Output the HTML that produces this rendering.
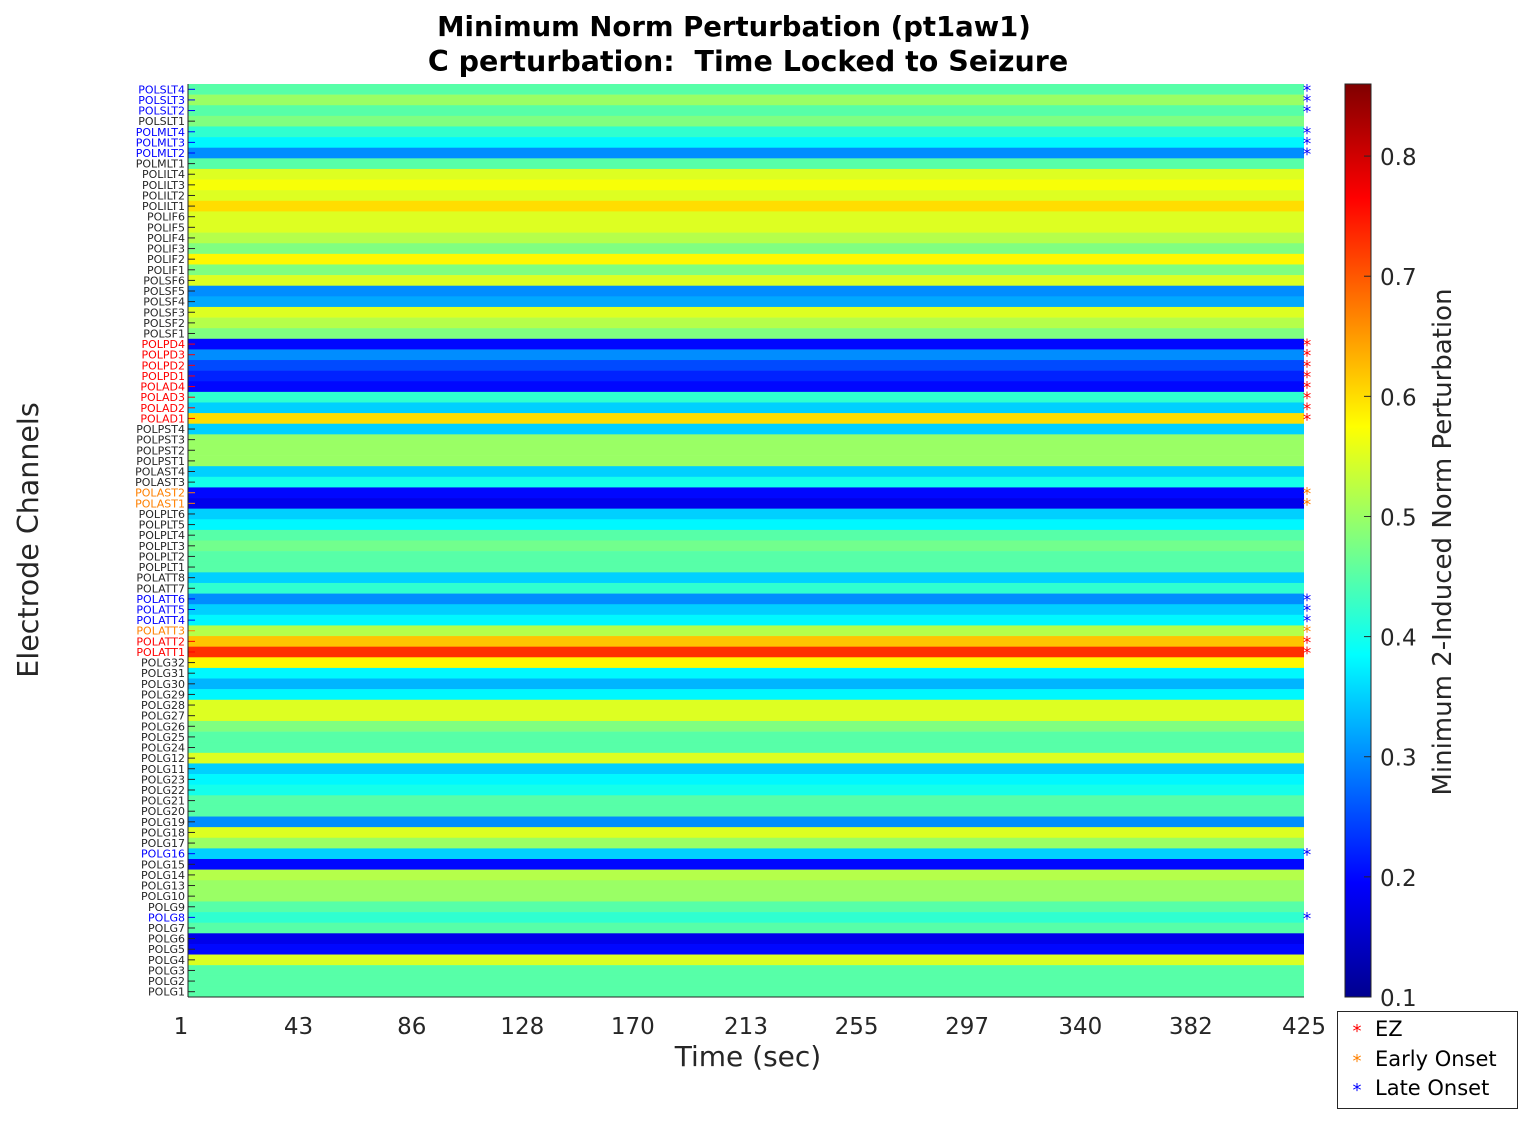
<!DOCTYPE html>
<html><head><meta charset="utf-8"><style>
body{margin:0;background:#fff;width:1535px;height:1121px;overflow:hidden;font-family:"DejaVu Sans","Liberation Sans",sans-serif}
svg text{font-family:"DejaVu Sans","Liberation Sans",sans-serif;white-space:pre}
</style></head><body>
<svg id="chart" width="1535" height="1121" xmlns="http://www.w3.org/2000/svg">
<defs><linearGradient id="jet" x1="0" y1="1" x2="0" y2="0">
<stop offset="0" stop-color="#00008f"/><stop offset="0.125" stop-color="#0000ff"/><stop offset="0.375" stop-color="#00ffff"/><stop offset="0.625" stop-color="#ffff00"/><stop offset="0.875" stop-color="#ff0000"/><stop offset="1" stop-color="#800000"/></linearGradient></defs>
<text x="734" y="36" font-size="27.5" font-weight="bold" text-anchor="middle">Minimum Norm Perturbation (pt1aw1)</text>
<text x="748" y="71" font-size="28.5" font-weight="bold" text-anchor="middle">C perturbation:  Time Locked to Seizure</text>
<g id="cells"></g>
<g id="ylabels"></g>
<g id="xticks"></g>
<g id="marks"></g>
<text x="748" y="1066" font-size="28" fill="#262626" text-anchor="middle">Time (sec)</text>
<text transform="translate(38,540) rotate(-90)" font-size="28.5" fill="#262626" text-anchor="middle">Electrode Channels</text>
<rect x="1345" y="84" width="26" height="913" fill="url(#jet)" stroke="#262626" stroke-width="1"/>
<g id="cbticks"></g>
<text transform="translate(1451,542) rotate(-90)" font-size="26" fill="#262626" text-anchor="middle">Minimum 2-Induced Norm Perturbation</text>
<g>
<rect x="1337.5" y="1011.5" width="180" height="97" fill="#fff" stroke="#262626"/>
<text x="1357" y="1037" font-size="18" fill="#ff0000" text-anchor="middle">*</text>
<text x="1375" y="1036" font-size="21">EZ</text>
<text x="1357" y="1067" font-size="18" fill="#ff8000" text-anchor="middle">*</text>
<text x="1375" y="1066" font-size="21">Early Onset</text>
<text x="1357" y="1096" font-size="18" fill="#0000ff" text-anchor="middle">*</text>
<text x="1375" y="1095" font-size="21">Late Onset</text>
</g>
</svg>
<script>
const channels=["POLSLT4","POLSLT3","POLSLT2","POLSLT1","POLMLT4","POLMLT3","POLMLT2","POLMLT1","POLILT4","POLILT3","POLILT2","POLILT1","POLIF6","POLIF5","POLIF4","POLIF3","POLIF2","POLIF1","POLSF6","POLSF5","POLSF4","POLSF3","POLSF2","POLSF1","POLPD4","POLPD3","POLPD2","POLPD1","POLAD4","POLAD3","POLAD2","POLAD1","POLPST4","POLPST3","POLPST2","POLPST1","POLAST4","POLAST3","POLAST2","POLAST1","POLPLT6","POLPLT5","POLPLT4","POLPLT3","POLPLT2","POLPLT1","POLATT8","POLATT7","POLATT6","POLATT5","POLATT4","POLATT3","POLATT2","POLATT1","POLG32","POLG31","POLG30","POLG29","POLG28","POLG27","POLG26","POLG25","POLG24","POLG12","POLG11","POLG23","POLG22","POLG21","POLG20","POLG19","POLG18","POLG17","POLG16","POLG15","POLG14","POLG13","POLG10","POLG9","POLG8","POLG7","POLG6","POLG5","POLG4","POLG3","POLG2","POLG1"];
const values=[0.45,0.5,0.45,0.48,0.42,0.38,0.3,0.45,0.55,0.57,0.55,0.6,0.55,0.55,0.52,0.48,0.58,0.48,0.55,0.3,0.32,0.55,0.52,0.48,0.2,0.3,0.25,0.22,0.2,0.42,0.35,0.6,0.35,0.5,0.5,0.5,0.35,0.4,0.2,0.18,0.35,0.38,0.45,0.47,0.45,0.45,0.35,0.42,0.3,0.35,0.38,0.52,0.62,0.73,0.58,0.38,0.33,0.38,0.55,0.55,0.48,0.45,0.45,0.55,0.35,0.38,0.4,0.45,0.45,0.3,0.55,0.5,0.35,0.2,0.52,0.5,0.5,0.45,0.42,0.45,0.18,0.2,0.55,0.45,0.45,0.45];
const groups=["late","late","late","","late","late","late","","","","","","","","","","","","","","","","","","ez","ez","ez","ez","ez","ez","ez","ez","","","","","","","early","early","","","","","","","","","late","late","late","early","ez","ez","","","","","","","","","","","","","","","","","","","late","","","","","","late","","","","","","",""];
const xTicks=[1,43,86,128,170,213,255,297,340,382,425];
const cbTicks=[0.1,0.2,0.3,0.4,0.5,0.6,0.7,0.8];
const vmin=0.1,vmax=0.86,tmin=1,tmax=425;
const X0=188,X1=1304,Y0=84,Y1=997;
const NS='http://www.w3.org/2000/svg';
const colorOf={ez:'#ff0000',early:'#ff8000',late:'#0000ff','':'#262626'};
function xs(t){return X0+(t-tmin)/(tmax-tmin)*(X1-X0);}
function ys(i){return Y0+i*(Y1-Y0)/channels.length;}
function cs(v){return Y1-(v-vmin)/(vmax-vmin)*(Y1-Y0);}
function jet(v){let t=(v-vmin)/(vmax-vmin);t=Math.max(0,Math.min(1,t));
 const f=(c)=>Math.max(0,Math.min(1,1.5-Math.abs(4*t-c)));
 return `rgb(${Math.round(255*f(3))},${Math.round(255*f(2))},${Math.round(255*f(1))})`;}
function el(tag,attrs,parent){const e=document.createElementNS(NS,tag);for(const k in attrs)e.setAttribute(k,attrs[k]);parent.appendChild(e);return e;}
const cells=document.getElementById('cells'),yl=document.getElementById('ylabels'),mk=document.getElementById('marks');
const rh=(Y1-Y0)/channels.length;
channels.forEach((c,i)=>{
 const r=el('rect',{x:X0,y:ys(i),width:X1-X0,height:rh+0.3,fill:jet(values[i])},cells);
 
 
 const t=el('text',{x:185,y:ys(i)+rh/2+4,'font-size':11,'text-anchor':'end',fill:colorOf[groups[i]]},yl);
 t.textContent=c;
 
 
 const tk=el('line',{x1:X0,x2:X0+7,y1:ys(i)+rh/2,y2:ys(i)+rh/2,stroke:colorOf[groups[i]]},yl);
 
 
 if(groups[i]){const m=el('text',{x:1307,y:ys(i)+rh/2+7,'font-size':17,'text-anchor':'middle',fill:colorOf[groups[i]]},mk);
  m.textContent='*';
  
  }
});
el('line',{x1:X0,x2:X0,y1:Y0,y2:Y1,stroke:'#262626'},yl);
el('line',{x1:X0,x2:X1,y1:Y1,y2:Y1,stroke:'#262626'},yl);
const xt=document.getElementById('xticks');
xTicks.forEach(v=>{const t=el('text',{x:xs(v)-(v===1?7:0),y:1034,'font-size':23,'text-anchor':'middle',fill:'#262626'},xt);
 t.textContent=v;
 
 });
const cb=document.getElementById('cbticks');
cbTicks.forEach(v=>{const t=el('text',{x:1380,y:cs(v)+9,'font-size':23,fill:'#262626'},cb);
 t.textContent=v.toFixed(1);
 
 
 el('line',{x1:1364,x2:1371,y1:cs(v),y2:cs(v),stroke:'#262626'},cb);});
</script>
</body></html>
